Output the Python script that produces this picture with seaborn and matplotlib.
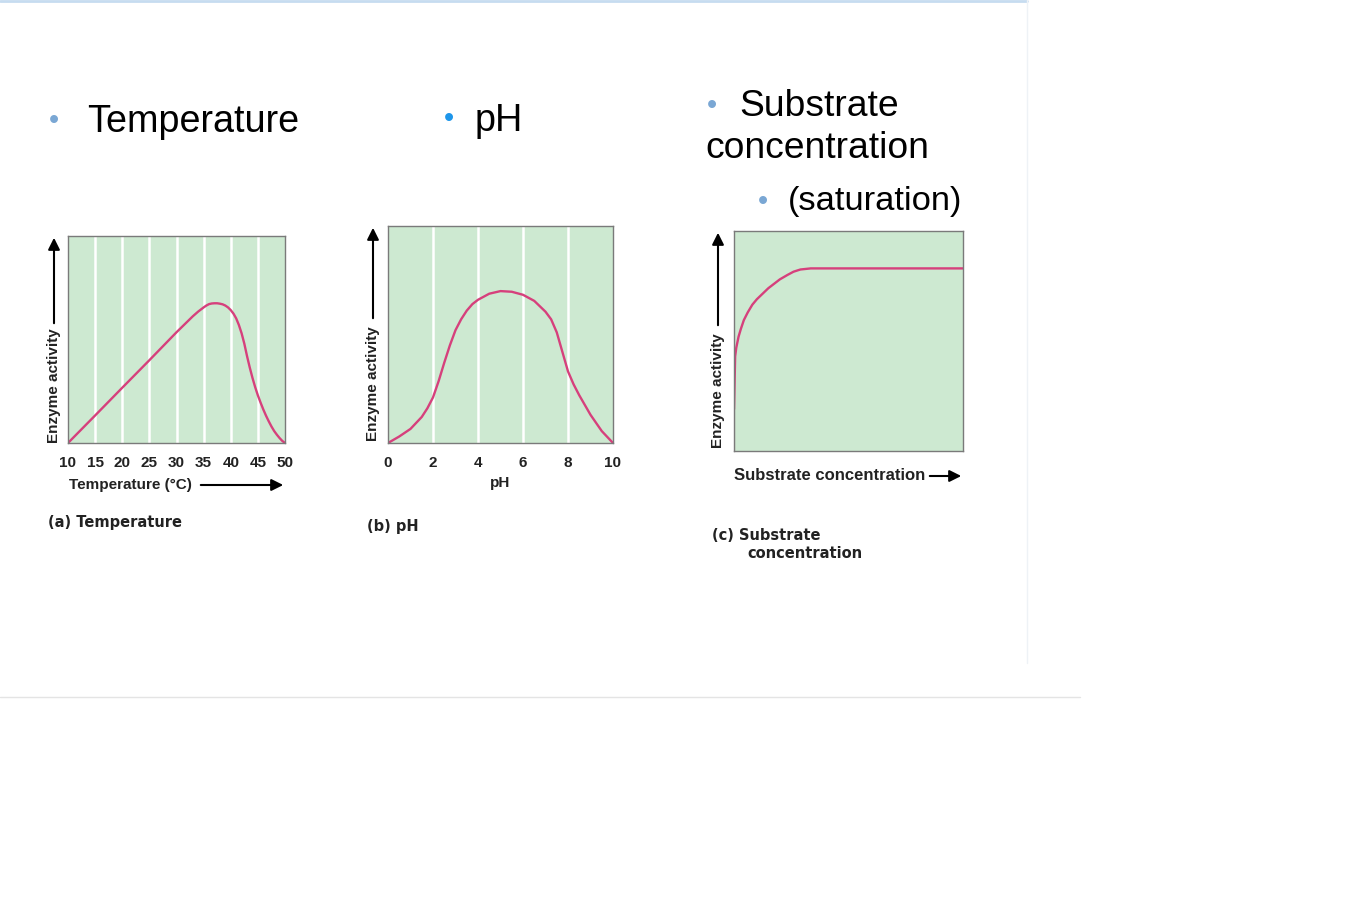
import matplotlib
matplotlib.use("Agg")
from matplotlib import pyplot as plt
import seaborn as sns

# (a) temperature curve
temp_x = [10, 15, 20, 25, 30, 33, 34, 35, 35.5, 36, 36.5, 37, 37.5, 38, 38.5, 39,
          39.5, 40, 40.5, 41, 41.5, 42, 42.5, 43, 43.5, 44, 44.5, 45, 45.5, 46,
          46.5, 47, 47.5, 48, 48.5, 49, 49.5, 50]
temp_y = [0, 0.133, 0.267, 0.40, 0.535, 0.612, 0.635, 0.655, 0.664, 0.671, 0.674,
          0.675, 0.675, 0.673, 0.670, 0.664, 0.655, 0.642, 0.625, 0.602, 0.57,
          0.53, 0.48, 0.42, 0.365, 0.315, 0.27, 0.23, 0.195, 0.162, 0.132, 0.105,
          0.08, 0.058, 0.04, 0.024, 0.01, 0]
temp_ticks = [10, 15, 20, 25, 30, 35, 40, 45, 50]

# (b) pH curve
ph_x = [0, 0.5, 1.0, 1.5, 1.75, 2.0, 2.25, 2.5, 2.75, 3.0, 3.25, 3.5, 3.75, 4.0,
        4.5, 5.0, 5.5, 6.0, 6.5, 7.0, 7.25, 7.5, 7.75, 8.0, 8.25, 8.5, 9.0, 9.5, 10]
ph_y = [0, 0.03, 0.065, 0.12, 0.16, 0.21, 0.285, 0.37, 0.45, 0.52, 0.57, 0.61,
        0.64, 0.66, 0.688, 0.70, 0.697, 0.683, 0.655, 0.605, 0.57, 0.51, 0.42,
        0.33, 0.27, 0.22, 0.13, 0.055, 0]
ph_ticks = [0, 2, 4, 6, 8, 10]

# (c) substrate saturation curve
sub_x = [0, 0, 0.005, 0.01, 0.02, 0.03, 0.043, 0.06, 0.08, 0.10, 0.125, 0.15,
         0.175, 0.2, 0.233, 0.26, 0.29, 0.335, 1.0]
sub_y = [0, 0.38, 0.43, 0.47, 0.52, 0.555, 0.595, 0.63, 0.665, 0.69, 0.715, 0.74,
         0.76, 0.78, 0.80, 0.815, 0.825, 0.83, 0.83]

W, H = 1353, 902
GREEN = "#cde9d1"
CURVE = "#d6407c"
FRAME = "#7a7a7a"
TXT = "#222222"

sns.set_style("white")
plt.rcParams["font.family"] = ["Liberation Sans", "DejaVu Sans"]

fig = plt.figure(figsize=(W / 100, H / 100), dpi=100)


def fx(x):
    return x / W


def fy(y):
    return 1 - y / H


def add_panel(left, top, right, bottom):
    ax = fig.add_axes([fx(left), fy(bottom), (right - left) / W, (bottom - top) / H])
    ax.set_facecolor(GREEN)
    for s in ax.spines.values():
        s.set_color(FRAME)
        s.set_linewidth(1.0)
    return ax


def arrow(x0, y0, x1, y1):
    fig.add_artist(matplotlib.patches.FancyArrowPatch(
        (fx(x0), fy(y0)), (fx(x1), fy(y1)), transform=fig.transFigure,
        arrowstyle="-|>,head_length=7,head_width=3.5", color="black", lw=1.5))


def ylab(x, y):
    fig.text(fx(x), fy(y), "Enzyme activity", rotation=90, ha="center", va="center",
             fontsize=11, fontweight="bold", color=TXT)


def caption(x, y, s):
    fig.text(fx(x), fy(y), s, va="center", fontsize=10.5, fontweight="bold",
             color=TXT, family="DejaVu Sans")


def bullet(x, y, c):
    fig.text(fx(x), fy(y), "•", fontsize=21, color=c, ha="center", va="center")


# slide frame
fig.add_artist(plt.Line2D([0, fx(1027)], [fy(1), fy(1)], color="#c6dcf0", lw=2))
fig.add_artist(plt.Line2D([fx(1027), fx(1027)], [fy(0), fy(663)], color="#eef2f6", lw=1))
fig.add_artist(plt.Line2D([0, fx(1080)], [fy(697), fy(697)], color="#e4e4e4", lw=1))

# bullet titles
BUL1 = "#7aa7d4"
BUL2 = "#1e96ea"
title_kw = dict(fontsize=27.2, va="center", color="black")
bullet(54, 121, BUL1)
fig.text(fx(87), fy(122), "Temperature", **title_kw)
bullet(449, 119, BUL2)
fig.text(fx(475), fy(121), "pH", **title_kw)
bullet(712, 106, BUL1)
fig.text(fx(739), fy(107), "Substrate", fontsize=26.8, va="center", color="black")
fig.text(fx(705), fy(149), "concentration", fontsize=26.8, va="center", color="black")
bullet(763, 202, BUL1)
fig.text(fx(788), fy(202), "(saturation)", fontsize=24.8, va="center", color="black")

tick_kw = dict(fontsize=11, fontweight="bold", color=TXT)

# (a) temperature
ax1 = add_panel(68, 236, 285, 443)
sns.lineplot(x=temp_x, y=temp_y, ax=ax1, color=CURVE, lw=1.7)
ax1.set_xlim(10, 50)
ax1.set_ylim(0, 1)
for t in temp_ticks[1:-1]:
    ax1.axvline(t, color="white", lw=1.8, zorder=0.5)
ax1.set_xticks(temp_ticks)
ax1.set_xticklabels([str(t) for t in temp_ticks], **tick_kw)
ax1.set_yticks([])
ax1.tick_params(axis="x", length=0, pad=9)
fig.text(fx(69), fy(485), "Temperature (°C)", va="center", **tick_kw)
arrow(198, 485, 286, 485)
ylab(54, 386)
arrow(54, 326, 54, 235)
caption(48, 522, "(a) Temperature")

# (b) pH
ax2 = add_panel(388, 226, 613, 443)
sns.lineplot(x=ph_x, y=ph_y, ax=ax2, color=CURVE, lw=1.7)
ax2.set_xlim(0, 10)
ax2.set_ylim(0, 1)
for t in ph_ticks[1:-1]:
    ax2.axvline(t, color="white", lw=1.8, zorder=0.5)
ax2.set_xticks(ph_ticks)
ax2.set_xticklabels([str(t) for t in ph_ticks], **tick_kw)
ax2.set_yticks([])
ax2.tick_params(axis="x", length=0, pad=9)
fig.text(fx(500), fy(483), "pH", ha="center", va="center", **tick_kw)
ylab(373, 384)
arrow(373, 321, 373, 225)
caption(367, 526, "(b) pH")

# (c) substrate concentration
ax3 = add_panel(734, 231, 963, 451)
sns.lineplot(x=sub_x, y=sub_y, ax=ax3, color=CURVE, lw=1.7, sort=False)
ax3.set_xlim(0, 1)
ax3.set_ylim(0, 1)
ax3.set_xticks([])
ax3.set_yticks([])
fig.text(fx(734), fy(476), "Substrate concentration", va="center",
         fontsize=12, fontweight="bold", color=TXT)
arrow(927, 476, 964, 476)
ylab(718, 391)
arrow(718, 328, 718, 230)
caption(712, 535, "(c) Substrate")
caption(747, 553, "concentration")

fig.savefig("out.png", dpi=100)
